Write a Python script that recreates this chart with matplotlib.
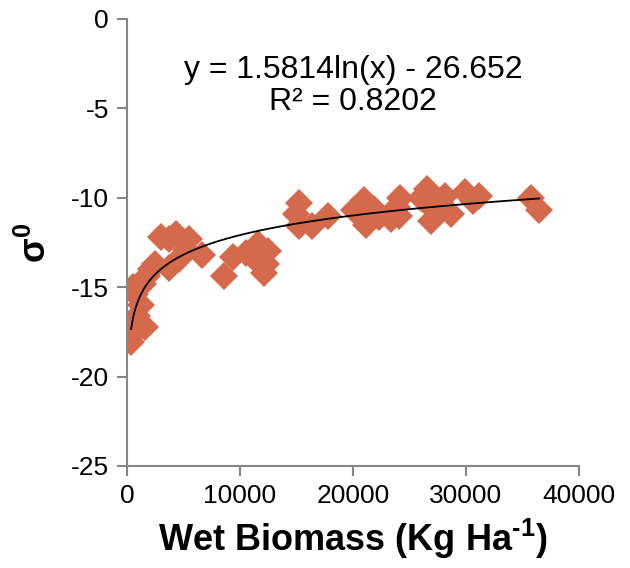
import numpy as np
import matplotlib.pyplot as plt

plt.rcParams['font.family'] = ['Liberation Sans', 'DejaVu Sans']
plt.rcParams['axes.unicode_minus'] = False
plt.rcParams['mathtext.fontset'] = 'custom'
plt.rcParams['mathtext.rm'] = 'Liberation Sans:bold'
plt.rcParams['mathtext.bf'] = 'Liberation Sans:bold'

# wet biomass (Kg/Ha) and backscatter sigma0 (dB)
biomass = [360, 700, 400, 1600, 900, 1250, 500, 700, 1400, 1800, 2100, 2500,
           3000, 3700, 4300, 3700, 4600, 5500, 5200, 6600, 8600, 9400, 10500,
           11200, 11600, 12500, 12300, 12100, 15200, 15000, 15200, 16400, 17800,
           20100, 21000, 21400, 21200, 21900, 22300, 23400, 23900, 24200, 24100,
           26000, 26600, 26900, 27100, 28200, 28700, 29900, 30600, 31200, 35800,
           36500]
sigma0 = [-18.05, -17.5, -17.5, -17.2, -16.6, -16.0, -15.0, -15.4, -14.8, -14.4,
          -14.0, -13.7, -12.2, -12.3, -12.0, -13.9, -13.4, -12.3, -12.9, -13.2,
          -14.4, -13.3, -13.1, -13.3, -12.6, -13.0, -13.7, -14.2, -10.3, -10.9,
          -11.6, -11.6, -11.0, -10.7, -10.1, -10.7, -11.5, -10.6, -11.1, -11.2,
          -10.5, -10.0, -11.0, -10.0, -9.5, -11.3, -10.6, -9.9, -10.9, -9.7,
          -10.2, -9.9, -10.0, -10.7]

# logarithmic trendline as printed on the chart
coef_a, coef_b = 1.5814, -26.652
fit_x = np.linspace(min(biomass), max(biomass), 400)
fit_y = coef_a * np.log(fit_x) + coef_b

fig = plt.figure(figsize=(6.3, 5.68), dpi=100)
ax = fig.add_axes([0.2016, 0.1796, 0.717, 0.787])

ax.plot(biomass, sigma0, linestyle='none', marker='D', markersize=14,
        color='#D4694C', markeredgewidth=0)
ax.plot(fit_x, fit_y, color='black', linewidth=1.3)

ax.set_xlim(0, 40000)
ax.set_ylim(-25, 0)
ax.set_xticks([0, 10000, 20000, 30000, 40000])
ax.set_yticks([0, -5, -10, -15, -20, -25])

for side in ['top', 'right']:
    ax.spines[side].set_visible(False)
for side in ['left', 'bottom']:
    ax.spines[side].set_color('#868686')
    ax.spines[side].set_linewidth(1.5)
ax.tick_params(direction='out', length=7, width=1.5, color='#868686',
               labelsize=19, pad=6)

ax.text(0.5, 0.85, 'y = 1.5814ln(x) - 26.652\nR² = 0.8202', transform=ax.transAxes,
        ha='center', va='center', fontsize=23, linespacing=1.05)

ax.set_xlabel('Wet Biomass (Kg Ha$^{\\text{-1}}$)', fontsize=26, fontweight='bold',
              labelpad=6)
ax.set_ylabel('$\\mathbf{\\sigma^0}$', fontsize=26, fontweight='bold', labelpad=12)

fig.savefig('out.png', dpi=100)
